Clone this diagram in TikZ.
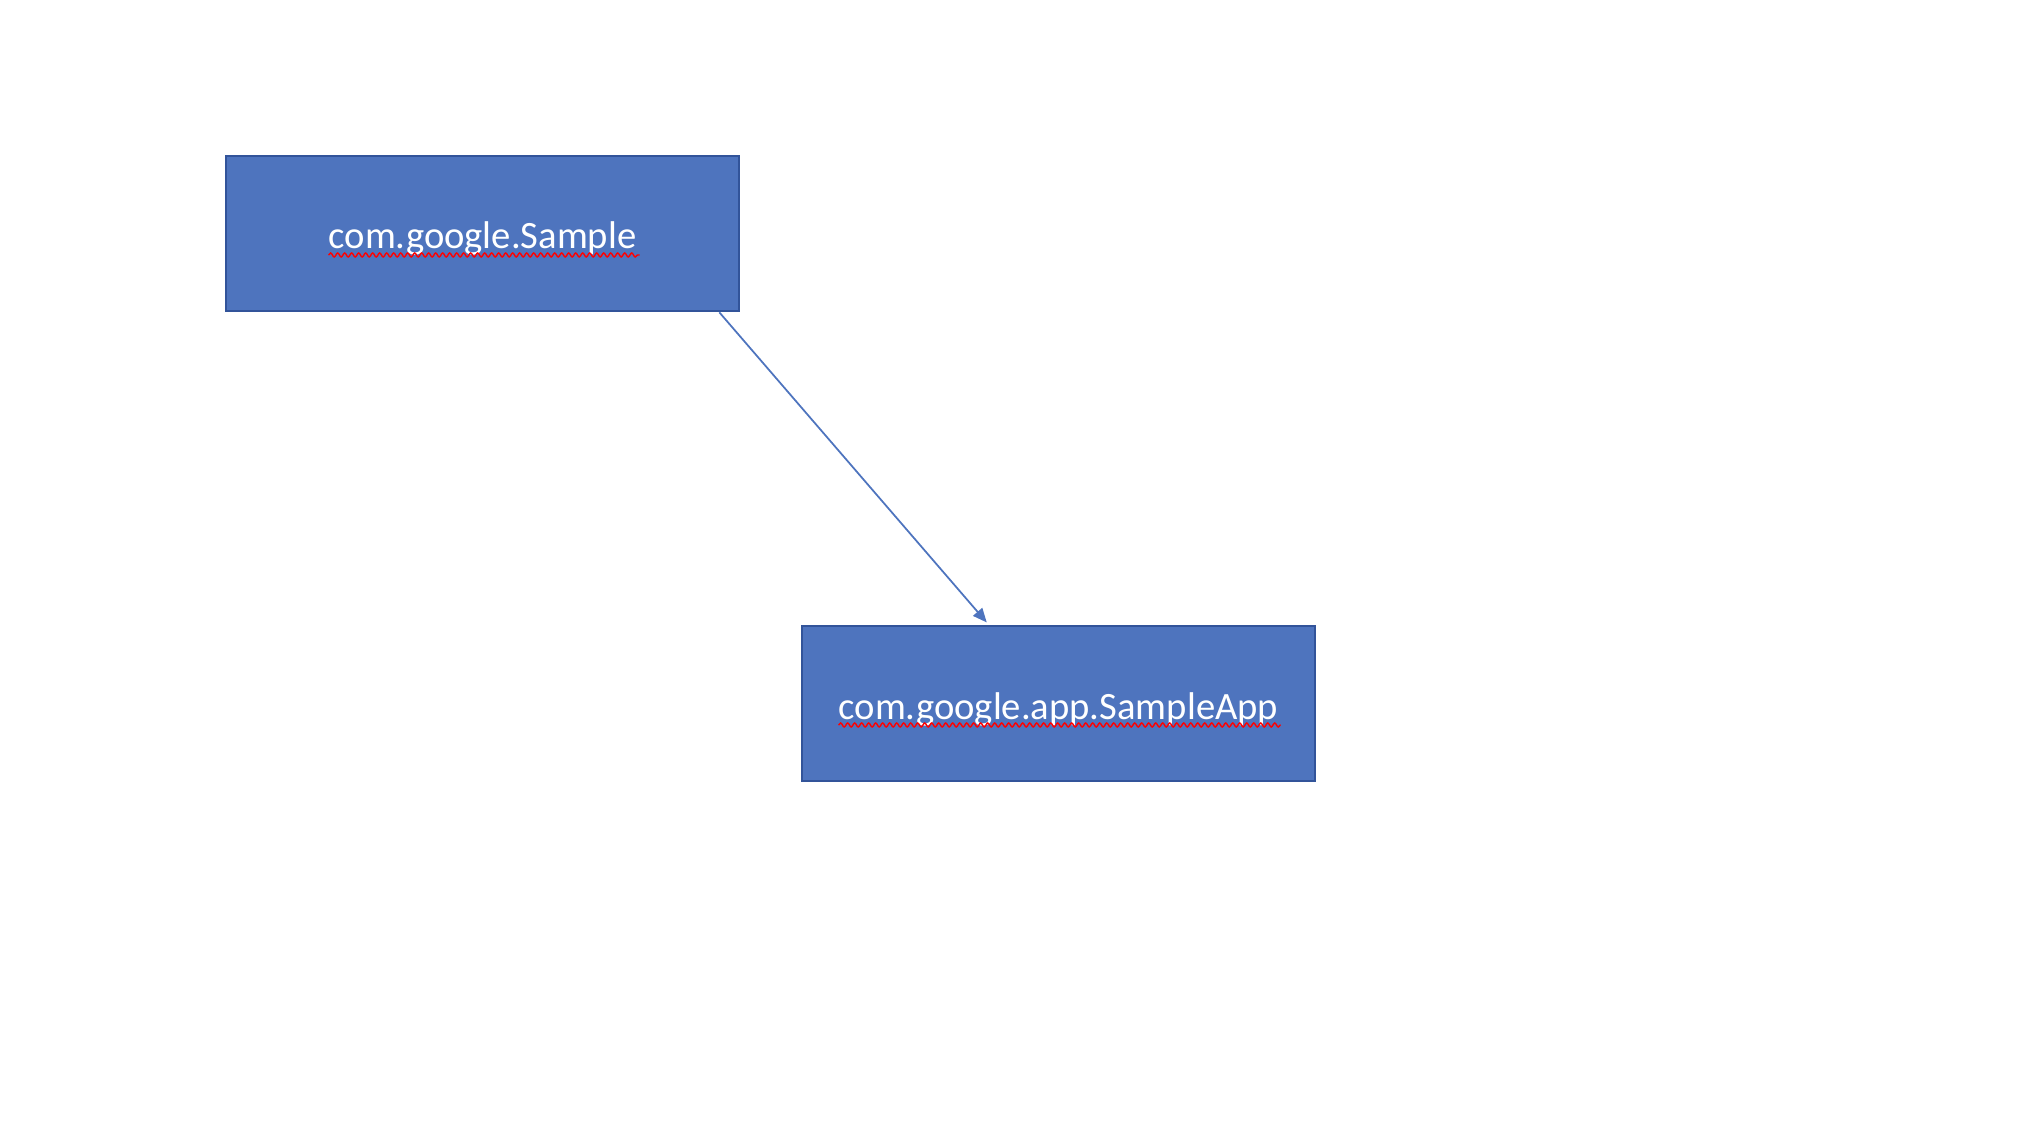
\documentclass[tikz,border=0pt]{standalone}
\usepackage{fontspec}
\setmainfont{Carlito}
\usetikzlibrary{arrows.meta, calc, decorations.pathmorphing}
\definecolor{boxfill}{HTML}{4E74BE}
\definecolor{boxline}{HTML}{32549A}

\begin{document}
\begin{tikzpicture}
        \tikzset{pkg/.style = {shape=rectangle,draw=boxline,fill=boxfill,line width=0.75pt,minimum width=5.13cm,minimum height=1.55cm,text height=0.39cm,text depth=0.08cm,text=white,font=\fontsize{11}{13}\selectfont}}
        \tikzset{edge/.style = {draw=boxfill,line width=0.5pt,-{Triangle[length=0.14cm,width=0.12cm]}}}
        \tikzset{squiggle/.style = {draw=red,line width=0.4pt,decorate,decoration={snake,amplitude=0.02cm,segment length=0.07cm}}}
        \useasboundingbox (0,0) rectangle (20.3,-11.38);
        \node[pkg] (sample) at (4.825, -2.335) {com.google.Sample};
        \node[pkg] (app) at (10.585, -7.035) {com.google.app.SampleApp};
        \draw[squiggle] ($(sample.base)+(-1.54,-0.06)$) to ($(sample.base)+(1.57,-0.06)$);
        \draw[squiggle] ($(app.base)+(-2.2,-0.06)$) to ($(app.base)+(2.22,-0.06)$);
        \draw[edge, shorten >=0.03cm] ([xshift=-0.21cm]sample.south east) to ([xshift=1.88cm]app.north west);
      \end{tikzpicture}
\end{document}
